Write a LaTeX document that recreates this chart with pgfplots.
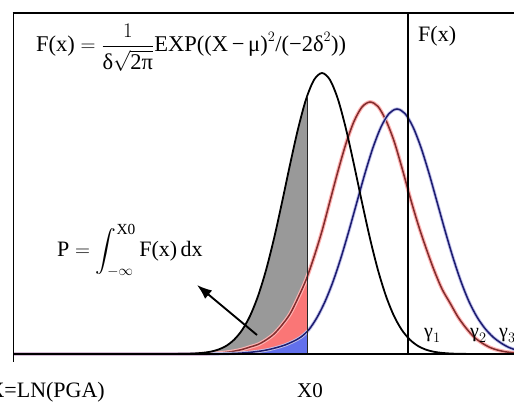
\documentclass[border=0pt]{standalone}
\usepackage{amsmath}
\usepackage{fontspec}
\setmainfont{Liberation Serif}
\usepackage{pgfplots}
\pgfplotsset{compat=1.18}
\usetikzlibrary{arrows.meta}
\definecolor{grayfill}{RGB}{153,153,153}
\definecolor{redfill}{RGB}{250,118,118}
\definecolor{bluefill}{RGB}{98,112,236}
\definecolor{redline}{RGB}{130,45,45}
\definecolor{redglow}{RGB}{255,180,180}
\definecolor{blueline}{RGB}{28,28,112}
\definecolor{blueglow}{RGB}{195,195,235}
\begin{document}
\begin{tikzpicture}[x=1pt,y=1pt]
\begin{scope}
\clip (0,0) rectangle (514,403);
\begin{axis}[
  at={(13.5pt,49pt)}, anchor=south west,
  scale only axis, width=526.5pt, height=341pt,
  xmin=13.5, xmax=540, ymin=0, ymax=341,
  xtick=\empty, ytick=\empty,
  axis line style={line width=1.7pt, black},
  clip=false,
  every axis plot/.append style={smooth, tension=0.5},
]
% fills up to X0 = 307
\addplot[fill=grayfill, draw=none] coordinates {
(14,0) (170,0) (178,0.1) (186,0.2) (194,0.5) (202,1.1) (210,2.2) (218,4.3) (226,8.0) (234,14.2) (242,23.8) (250,38.0) (258,57.9) (266,83.8) (274,115.5) (282,151.6) (290,189.3) (298,225.0) (306,254.6) (307,257.6)
} \closedcycle;
\addplot[fill=redfill, draw=none] coordinates {
(14,0) (194,0) (202,0.2) (210,0.4) (218,0.8) (226,1.6) (234,2.8) (242,4.5) (250,7) (258,9.5) (266,14) (274,20) (282,29) (290,40) (298,56) (306,74) (307,76.3)
} \closedcycle;
\addplot[fill=bluefill, draw=none] coordinates {
(14,0) (205,0) (213,0.1) (221,0.2) (229,0.4) (237,0.7) (245,1.2) (253,2) (261,3) (269,4.5) (277,6.5) (285,9) (293,12.5) (301,17) (307,22)
} \closedcycle;
% curves
\addplot[redglow, line width=3.8pt] coordinates {
(14,0) (194,0) (202,0.2) (210,0.4) (218,0.8) (226,1.6) (234,2.8) (242,4.5) (250,7) (258,9.5) (266,14) (274,20) (282,29) (290,40) (298,56) (306,74) (314,97) (322,123) (330,153) (338,183) (346,210.5) (354,232.6) (362,247) (370,252) (378,247.5) (386,233.5) (394,213) (402,186) (410,157) (418,130) (426,106) (434,84) (442,65) (450,51) (458,37) (466,26) (474,17) (482,11) (490,6.5) (498,3.8) (506,2.1) (514,1.2) (522,0.6) (530,0.3) (540,0)
};
\addplot[redline, line width=1.5pt] coordinates {
(14,0) (194,0) (202,0.2) (210,0.4) (218,0.8) (226,1.6) (234,2.8) (242,4.5) (250,7) (258,9.5) (266,14) (274,20) (282,29) (290,40) (298,56) (306,74) (314,97) (322,123) (330,153) (338,183) (346,210.5) (354,232.6) (362,247) (370,252) (378,247.5) (386,233.5) (394,213) (402,186) (410,157) (418,130) (426,106) (434,84) (442,65) (450,51) (458,37) (466,26) (474,17) (482,11) (490,6.5) (498,3.8) (506,2.1) (514,1.2) (522,0.6) (530,0.3) (540,0)
};
\addplot[blueglow, line width=3.3pt] coordinates {
(14,0) (205,0) (213,0.1) (221,0.2) (229,0.4) (237,0.7) (245,1.2) (253,2) (261,3) (269,4.5) (277,6.5) (285,9) (293,12.5) (301,17) (309,24.5) (317,36.5) (325,52.4) (333,72.4) (341,96.4) (349,123.5) (357,152.2) (365,180.7) (373,206.4) (381,227) (389,240.4) (397,245) (405,240.4) (413,227) (421,206.4) (429,180.7) (437,152.2) (445,123.5) (453,96.4) (461,72.4) (469,52.4) (477,37) (485,25.5) (493,17) (501,11) (509,6.5) (517,3.8) (525,2) (533,1) (541,0.5)
};
\addplot[blueline, line width=1.5pt] coordinates {
(14,0) (205,0) (213,0.1) (221,0.2) (229,0.4) (237,0.7) (245,1.2) (253,2) (261,3) (269,4.5) (277,6.5) (285,9) (293,12.5) (301,17) (309,24.5) (317,36.5) (325,52.4) (333,72.4) (341,96.4) (349,123.5) (357,152.2) (365,180.7) (373,206.4) (381,227) (389,240.4) (397,245) (405,240.4) (413,227) (421,206.4) (429,180.7) (437,152.2) (445,123.5) (453,96.4) (461,72.4) (469,52.4) (477,37) (485,25.5) (493,17) (501,11) (509,6.5) (517,3.8) (525,2) (533,1) (541,0.5)
};
\addplot[black, line width=1.8pt] coordinates {
(14,0) (170,0) (178,0.1) (186,0.2) (194,0.5) (202,1.1) (210,2.2) (218,4.3) (226,8.0) (234,14.2) (242,23.8) (250,38.0) (258,57.9) (266,83.8) (274,115.5) (282,151.6) (290,189.3) (298,225.0) (306,254.6) (314,274.1) (322,281) (330,274.1) (338,254.6) (346,225.0) (354,189.3) (362,151.6) (370,115.5) (378,83.8) (386,57.9) (394,38.0) (402,23.8) (410,14.2) (418,8.0) (426,4.3) (434,2.2) (442,1.1) (450,0.5) (458,0.2) (466,0.1) (474,0) (540,0)
};
% lines
\draw[line width=0.9pt, black!85] (axis cs:307,0) -- (axis cs:307,257.6);
\draw[line width=1.3pt, black] (axis cs:408,0) -- (axis cs:408,341);
\draw[line width=1.7pt, black] (axis cs:13.5,-8) -- (axis cs:13.5,341);
\draw[line width=2pt, black] (axis cs:12.7,340.5) -- (axis cs:540,340.5);
\draw[line width=1.7pt, black] (axis cs:13.5,0) -- (axis cs:540,0);
\draw[-{Latex[length=15pt,width=11pt]}, line width=1.9pt] (axis cs:257,19) -- (axis cs:197,69);
% texts
\node[anchor=base west, inner sep=0pt, font=\fontsize{22.5}{27}\selectfont] at (axis cs:36,302)
  {$\text{F(x)} = \dfrac{1}{\text{δ}\sqrt{\text{2π}}}\text{EXP((X\,−\,μ)}^{2}\text{/(−2δ}^{2}\text{))}$};
\node[anchor=base west, inner sep=0pt, font=\fontsize{22}{26}\selectfont] at (axis cs:418,312) {F(x)};
\node[anchor=base west, inner sep=0pt, font=\fontsize{22}{26}\selectfont] at (axis cs:57,97)
  {$\text{P} = \displaystyle\int_{-\infty}^{\text{X0}} \text{F(x)}\,\text{dx}$};
\node[anchor=base west, inner sep=0pt, font=\fontsize{20}{24}\selectfont] at (axis cs:424,16) {$\text{γ}_{1}$};
\node[anchor=base west, inner sep=0pt, font=\fontsize{20}{24}\selectfont] at (axis cs:470,16) {$\text{γ}_{2}$};
\node[anchor=base west, inner sep=0pt, font=\fontsize{20}{24}\selectfont] at (axis cs:499,16) {$\text{γ}_{3}$};
\node[anchor=base east, inner sep=0pt, font=\fontsize{22}{26}\selectfont] at (axis cs:105,-44) {X=LN(PGA)};
\node[anchor=base west, inner sep=0pt, font=\fontsize{21}{25}\selectfont] at (axis cs:297,-44) {X0};
\end{axis}
\end{scope}
\pgfresetboundingbox
\path[use as bounding box] (0,0) rectangle (514,403);
\end{tikzpicture}
\end{document}
